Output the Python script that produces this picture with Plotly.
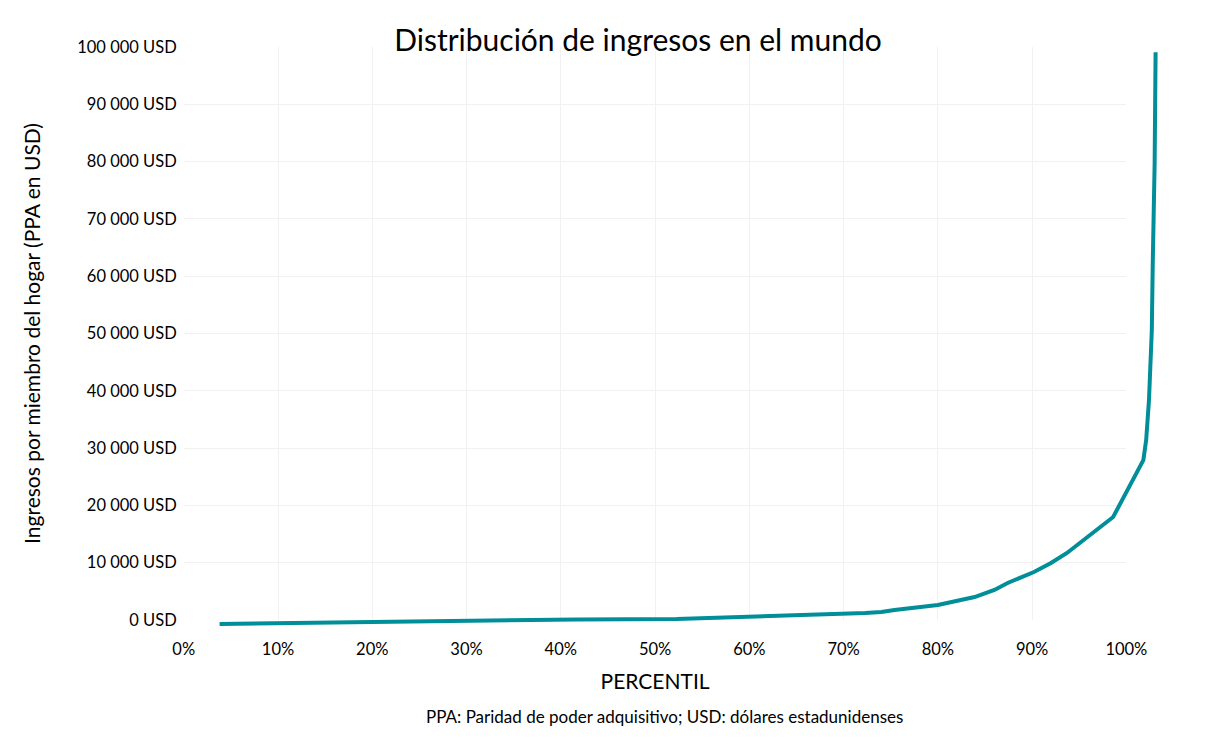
#!/usr/bin/env python3
"""World income distribution curve (percentile vs income per household member)."""

import plotly.graph_objects as go

# Data
percentil = [3.8, 12.2, 22.8, 30.1, 35.4, 41.7, 52.3, 60.0, 67.0, 72.3, 74.0, 75.4,
             80.0, 83.9, 86.0, 87.4, 90.2, 92.0, 93.7, 96.2, 98.6, 101.8, 102.1, 102.4,
             102.6, 102.7, 102.8, 103.0, 103.1]
ingresos = [-700, -520, -350, -170, 0, 90, 170, 520, 870, 1220, 1400, 1750,
            2620, 4000, 5240, 6460, 8380, 9950, 11700, 14830, 17980, 27900, 31400, 38400,
            44850, 50600, 62300, 79800, 99100]

x_ticks = [0, 10, 20, 30, 40, 50, 60, 70, 80, 90, 100]
x_ticktext = ["0%", "10%", "20%", "30%", "40%", "50%", "60%", "70%", "80%", "90%", "100%"]
y_ticks = [0, 10000, 20000, 30000, 40000, 50000, 60000, 70000, 80000, 90000, 100000]
y_ticktext = ["0 USD", "10 000 USD", "20 000 USD", "30 000 USD", "40 000 USD", "50 000 USD",
              "60 000 USD", "70 000 USD", "80 000 USD", "90 000 USD", "100 000 USD"]

FONT = "Comic Sans MS, Lato, sans-serif"
OFF = 8  # page body margin in the screenshot
W, H = 1222 - 2 * OFF, 754 - 2 * OFF
ML, MR, MT, MB = 140, 26, 22, 92
pw, ph = W - ML - MR, H - MT - MB

# grid box in figure pixels (screen position minus the page offset)
gx0, gx1 = 184 - OFF, 1133 - OFF
gy0, gy1 = 620 - OFF, 47 - OFF
sx = (gx1 - gx0) / 100.0
sy = (gy0 - gy1) / 100000.0

fig = go.Figure()
# empty trace so the gridded subplot gets drawn
fig.add_trace(go.Scatter(x=[], y=[], xaxis='x', yaxis='y', showlegend=False))
fig.add_trace(go.Scatter(
    x=percentil, y=ingresos, mode='lines',
    line=dict(color='#008E98', width=4),
    xaxis='x2', yaxis='y2', hoverinfo='x+y', showlegend=False,
))

fig.update_layout(
    width=W, height=H,
    margin=dict(l=ML, r=MR, t=MT, b=MB),
    paper_bgcolor='white', plot_bgcolor='rgba(0,0,0,0)',
    font=dict(family=FONT, size=16.5, color='black'),
    title=dict(text="Distribución de ingresos en el mundo", x=(638 - OFF) / W, xanchor='center',
               y=1 - (40 - OFF) / H, yanchor='middle', font=dict(size=30, color='black')),
    xaxis=dict(
        domain=[(gx0 - ML) / pw, (gx1 - ML) / pw],
        range=[0, 100], tickvals=x_ticks, ticktext=x_ticktext,
        showgrid=True, gridcolor='#f1f1f1', gridwidth=1,
        zeroline=False, showline=False, ticks='', ticklabelstandoff=17,
        title=dict(text="PERCENTIL", font=dict(size=21), standoff=16),
        anchor='y', fixedrange=True,
    ),
    yaxis=dict(
        domain=[(MT + ph - gy0) / ph, (MT + ph - gy1) / ph],
        range=[0, 100000], tickvals=y_ticks, ticktext=y_ticktext,
        showgrid=True, gridcolor='#f1f1f1', gridwidth=1,
        zeroline=False, showline=False, ticks='', ticklabelstandoff=6,
        title=dict(text="Ingresos por miembro del hogar (PPA en USD)", font=dict(size=21),
                   standoff=30),
        anchor='x', fixedrange=True,
    ),
    xaxis2=dict(
        domain=[0, 1], anchor='y2',
        range=[(ML - gx0) / sx, (ML + pw - gx0) / sx],
        visible=False, fixedrange=True,
    ),
    yaxis2=dict(
        domain=[0, 1], anchor='x2',
        range=[(gy0 - (MT + ph)) / sy, (gy0 - MT) / sy],
        visible=False, fixedrange=True,
    ),
    annotations=[dict(
        text="PPA: Paridad de poder adquisitivo; USD: dólares estadunidenses",
        xref='paper', yref='paper', x=(668 - OFF - ML) / pw, y=(MT + ph - (716 - OFF)) / ph,
        xanchor='center', yanchor='middle', showarrow=False, font=dict(size=17),
    )],
)

fig.write_html("out.html")
